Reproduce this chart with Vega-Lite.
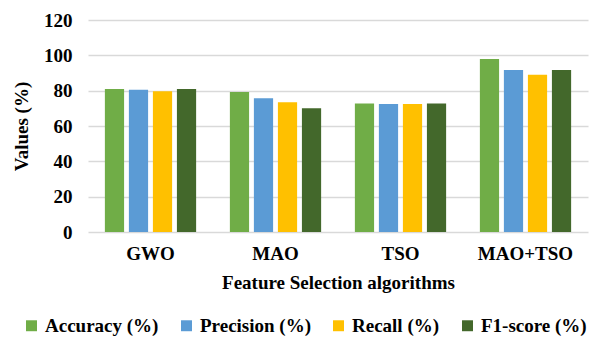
{
  "$schema": "https://vega.github.io/schema/vega-lite/v6.json",
  "width": 500,
  "height": 212,
  "autosize": "none",
  "padding": {"left": 88, "top": 20, "right": 2, "bottom": 108},
  "background": "white",
  "data": {
    "values": [
      {"algo": "GWO", "metric": "Accuracy (%)", "value": 81},
      {"algo": "GWO", "metric": "Precision (%)", "value": 80.5},
      {"algo": "GWO", "metric": "Recall (%)", "value": 79.6},
      {"algo": "GWO", "metric": "F1-score (%)", "value": 81},
      {"algo": "MAO", "metric": "Accuracy (%)", "value": 79.2},
      {"algo": "MAO", "metric": "Precision (%)", "value": 75.7},
      {"algo": "MAO", "metric": "Recall (%)", "value": 73.4},
      {"algo": "MAO", "metric": "F1-score (%)", "value": 70},
      {"algo": "TSO", "metric": "Accuracy (%)", "value": 72.8},
      {"algo": "TSO", "metric": "Precision (%)", "value": 72.4},
      {"algo": "TSO", "metric": "Recall (%)", "value": 72.4},
      {"algo": "TSO", "metric": "F1-score (%)", "value": 72.8},
      {"algo": "MAO+TSO", "metric": "Accuracy (%)", "value": 97.9},
      {"algo": "MAO+TSO", "metric": "Precision (%)", "value": 91.7},
      {"algo": "MAO+TSO", "metric": "Recall (%)", "value": 89},
      {"algo": "MAO+TSO", "metric": "F1-score (%)", "value": 91.7}
    ]
  },
  "mark": {"type": "bar"},
  "encoding": {
    "x": {
      "field": "algo",
      "type": "nominal",
      "sort": ["GWO", "MAO", "TSO", "MAO+TSO"],
      "scale": {"paddingInner": 0.27, "paddingOuter": 0.135},
      "axis": {
        "title": "Feature Selection algorithms",
        "labelAngle": 0,
        "labelFont": "Liberation Serif",
        "labelFontWeight": "bold",
        "labelFontSize": 19,
        "labelColor": "#000000",
        "labelPadding": 12,
        "titleFont": "Liberation Serif",
        "titleFontWeight": "bold",
        "titleFontSize": 19,
        "titleColor": "#000000",
        "titlePadding": 10,
        "ticks": false,
        "domain": false
      }
    },
    "xOffset": {
      "field": "metric",
      "type": "nominal",
      "sort": ["Accuracy (%)", "Precision (%)", "Recall (%)", "F1-score (%)"],
      "scale": {"paddingInner": 0.2}
    },
    "y": {
      "field": "value",
      "type": "quantitative",
      "scale": {"domain": [0, 120]},
      "axis": {
        "title": "Values (%)",
        "values": [0, 20, 40, 60, 80, 100, 120],
        "labelFont": "Liberation Serif",
        "labelFontWeight": "bold",
        "labelFontSize": 19,
        "labelColor": "#000000",
        "labelPadding": 16,
        "titleFont": "Liberation Serif",
        "titleFontWeight": "bold",
        "titleFontSize": 19,
        "titleColor": "#000000",
        "titlePadding": 12,
        "ticks": false,
        "domain": false,
        "gridColor": "#D9D9D9",
        "gridWidth": 1.5
      }
    },
    "color": {
      "field": "metric",
      "type": "nominal",
      "sort": ["Accuracy (%)", "Precision (%)", "Recall (%)", "F1-score (%)"],
      "scale": {
        "domain": ["Accuracy (%)", "Precision (%)", "Recall (%)", "F1-score (%)"],
        "range": ["#70AD47", "#5B9BD5", "#FFC000", "#43682B"]
      },
      "legend": {
        "title": null,
        "orient": "none",
        "legendX": -66,
        "legendY": 296,
        "direction": "horizontal",
        "symbolType": "square",
        "symbolSize": 120,
        "symbolStrokeWidth": 0,
        "labelFont": "Liberation Serif",
        "labelFontWeight": "bold",
        "labelFontSize": 19,
        "labelColor": "#000000",
        "columnPadding": 18,
        "labelOffset": 4
      }
    }
  },
  "config": {"view": {"stroke": null}}
}
